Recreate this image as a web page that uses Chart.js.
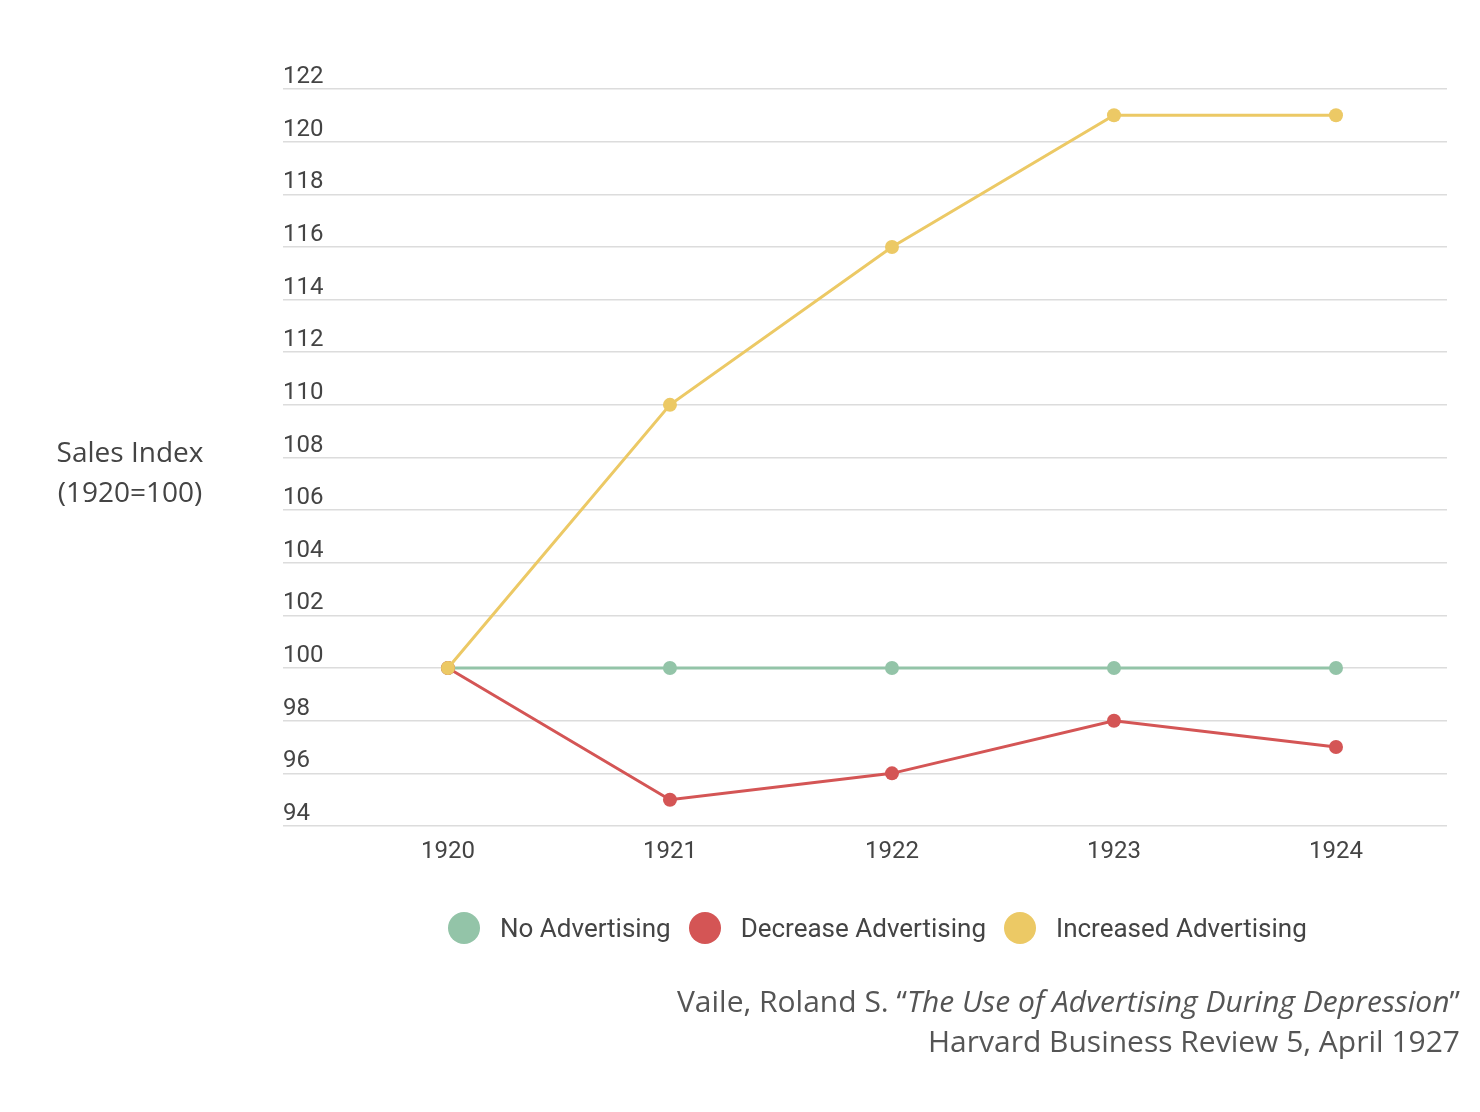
<!DOCTYPE html>
<html><head><meta charset="utf-8">
<script src="https://cdn.jsdelivr.net/npm/chart.js@4"></script>
<style>
body{margin:0;background:#fff;width:1480px;height:1112px;position:relative;overflow:hidden;font-family:Roboto,sans-serif}
#c{position:absolute;left:0;top:0}
.yt{position:absolute;left:20px;top:431px;width:220px;text-align:center;font-family:"Open Sans",sans-serif;font-size:28px;color:#444;line-height:40px}
.lg{position:absolute;top:912px;left:448px;display:flex;font-size:26px;color:#444}
.it{display:flex;align-items:center;margin-right:18px}
.dot{width:32px;height:32px;border-radius:50%;margin-right:20px}
.src{position:absolute;right:20px;top:981px;text-align:right;font-family:"Open Sans",sans-serif;font-size:30px;color:#555;line-height:40px}
</style></head><body>
<canvas id="c" width="1480" height="1112"></canvas>
<div class="yt">Sales Index<br>(1920=100)</div>
<div class="lg" id="lg"></div>
<div class="src">Vaile, Roland S. “<i>The Use of Advertising During Depression</i>”<br>Harvard Business Review 5, April 1927</div>
<script>
const years=[1920,1921,1922,1923,1924];
const noAdvertising=[100,100,100,100,100];
const decreaseAdvertising=[100,95,96,98,97];
const increasedAdvertising=[100,110,116,121,121];
const yTicks=[94,96,98,100,102,104,106,108,110,112,114,116,118,120,122];
const names=['No Advertising','Decrease Advertising','Increased Advertising'];
const colors=['#93c4a8','#d45555','#ecc965'];
const series=[noAdvertising,decreaseAdvertising,increasedAdvertising];
document.getElementById('lg').innerHTML=names.map((n,i)=>`<div class="it"><div class="dot" style="background:${colors[i]}"></div>${n}</div>`).join('');
const yLabels={id:'yl',afterDraw(ch){const s=ch.scales.y,ctx=ch.ctx;ctx.save();ctx.font='24px Roboto';ctx.fillStyle='#444';ctx.textAlign='left';ctx.textBaseline='alphabetic';
yTicks.forEach(v=>ctx.fillText(String(v),283,s.getPixelForValue(v)-6));ctx.restore();}};
new Chart(document.getElementById('c'),{type:'line',
data:{datasets:series.map((d,i)=>({label:names[i],data:d.map((v,j)=>({x:years[j],y:v})),borderColor:colors[i],backgroundColor:colors[i],borderWidth:3,pointRadius:7,pointHoverRadius:7,pointBorderWidth:0,order:3-i}))},
options:{responsive:false,animation:false,layout:{padding:{left:283,top:89,right:33,bottom:0}},
plugins:{legend:{display:false},tooltip:{enabled:false}},
scales:{x:{type:'linear',min:1919.257,max:1924.5,afterBuildTicks(a){a.ticks=years.map(v=>({value:v}));},
grid:{display:false},border:{display:false},ticks:{font:{size:24,family:'Roboto'},color:'#444',padding:4,callback:v=>String(v)},afterFit(a){a.height=286;}},
y:{min:94,max:122,afterBuildTicks(a){a.ticks=yTicks.map(v=>({value:v}));},ticks:{display:false},afterFit(a){a.width=0;},
grid:{color:'#dcdcdc',lineWidth:1.5,drawTicks:false},border:{display:false}}}},
plugins:[yLabels]});
</script></body></html>
